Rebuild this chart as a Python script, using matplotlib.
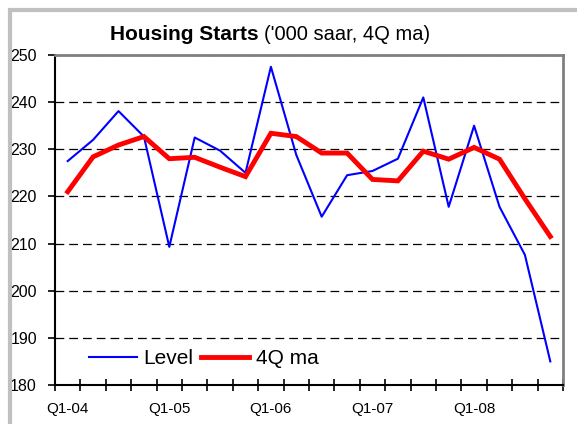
import matplotlib
matplotlib.use("Agg")
import matplotlib.pyplot as plt
from matplotlib.patches import Rectangle

plt.rcParams['font.family'] = ['Liberation Sans', 'DejaVu Sans']

# Data
quarters = ['Q1-04', 'Q2-04', 'Q3-04', 'Q4-04',
            'Q1-05', 'Q2-05', 'Q3-05', 'Q4-05',
            'Q1-06', 'Q2-06', 'Q3-06', 'Q4-06',
            'Q1-07', 'Q2-07', 'Q3-07', 'Q4-07',
            'Q1-08', 'Q2-08', 'Q3-08', 'Q4-08']
level = [227.5, 232.0, 238.1, 232.7, 209.3, 232.5, 229.7, 225.0,
         247.5, 228.8, 215.7, 224.5, 225.4, 228.0, 241.0, 217.8,
         235.0, 217.8, 207.6, 185.0]
ma4 = [221.0, 228.4, 230.9, 232.7, 228.0, 228.3, 226.2, 224.2,
       233.4, 232.7, 229.2, 229.2, 223.6, 223.3, 229.6, 227.9,
       230.4, 227.9, 219.5, 211.5]

W, H = 577, 424
fig = plt.figure(figsize=(W / 100, H / 100), dpi=100)

# grey outer frame (cut off on right and bottom)
fig.patches.append(Rectangle((10 / W, -0.05), 1.2, (H - 10) / H + 0.05,
                             transform=fig.transFigure, fill=False,
                             edgecolor='#c0c0c0', linewidth=3.0))

ax = fig.add_axes([55 / W, (H - 385) / H, (563 - 55) / W, (385 - 55) / H])

x = list(range(len(quarters)))
ax.plot(x, level, color='#0000ff', linewidth=1.5, label='Level')
ax.plot(x, ma4, color='#ff0000', linewidth=3.5, label='4Q ma',
        solid_joinstyle='miter')

ax.set_xlim(-0.5, len(quarters) - 0.5)
ax.set_ylim(180, 250)
ax.set_yticks(range(180, 251, 10))
ax.yaxis.grid(True, color='black', linestyle=(0, (7, 4)), linewidth=0.9)
ax.set_axisbelow(True)

# boundary ticks (major) and labels at Q1 (minor)
ax.set_xticks([i - 0.5 for i in range(len(quarters) + 1)])
ax.set_xticklabels([])
ax.set_xticks(x[::4], minor=True)
ax.set_xticklabels(quarters[::4], minor=True)
ax.tick_params(axis='x', which='major', direction='inout', length=8, width=1.2)
ax.tick_params(axis='x', which='minor', length=0, pad=12, labelsize=11)
ax.tick_params(axis='y', direction='out', length=5, width=1.2, pad=8, labelsize=11.5)

for s in ['left', 'bottom']:
    ax.spines[s].set_color('black')
    ax.spines[s].set_linewidth(1.5)
for s in ['top', 'right']:
    ax.spines[s].set_color('#808080')
    ax.spines[s].set_linewidth(2.0)

ax.legend(loc='lower left', bbox_to_anchor=(0.03, -0.005), ncol=2, frameon=False,
          fontsize=15, handlelength=2.3, handletextpad=0.3, columnspacing=0.4)

# title: bold part + regular part
t1 = fig.text(110 / W, (H - 40) / H, 'Housing Starts', fontsize=15,
              fontweight='bold', ha='left', va='baseline')
fig.canvas.draw()
bb = t1.get_window_extent(fig.canvas.get_renderer())
fig.text(bb.x1 / W + 5 / W, (H - 40) / H, "('000 saar, 4Q ma)", fontsize=14.5,
         ha='left', va='baseline')

fig.savefig('out.png', dpi=100)
